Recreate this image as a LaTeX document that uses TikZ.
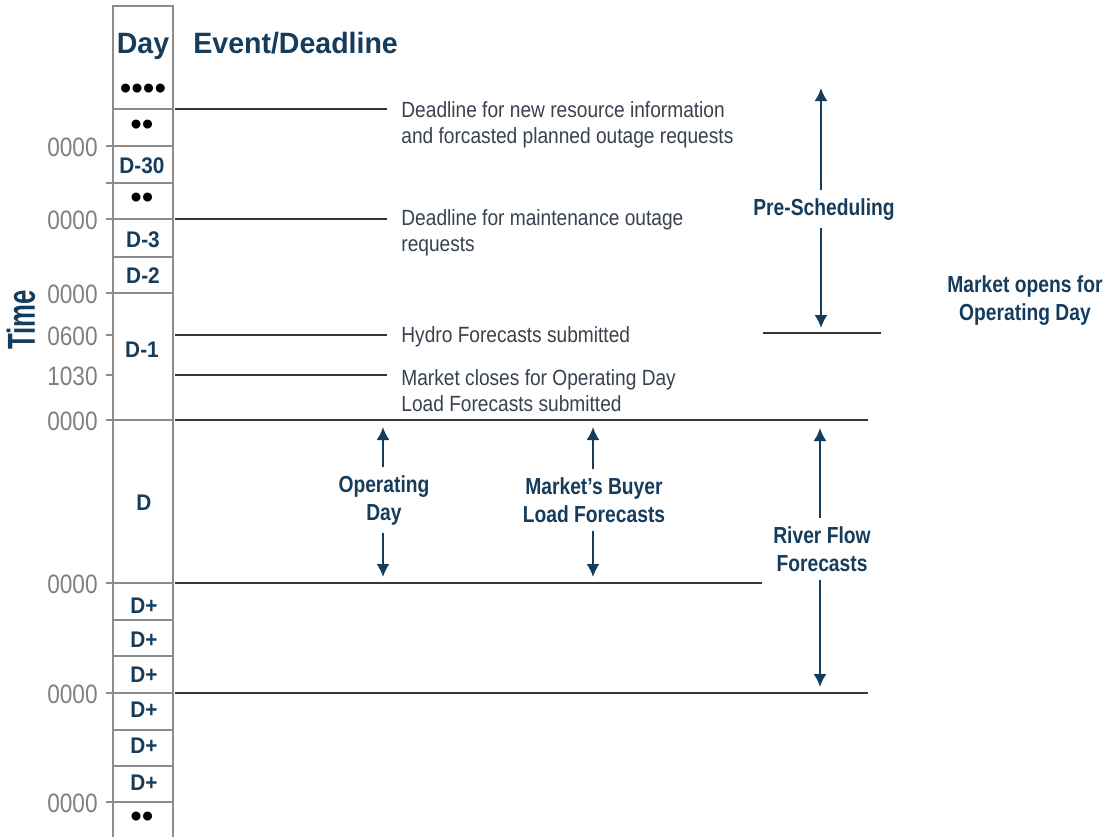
\documentclass[tikz,border=0pt]{standalone}
\usepackage{fontspec}
\setmainfont{Liberation Sans}
\newfontfamily\evfont[FakeStretch=0.87]{Liberation Sans}
\newfontfamily\hourfont[FakeStretch=0.85]{Liberation Sans}
\newfontfamily\spanfont[FakeStretch=0.83]{Liberation Sans}
\newfontfamily\cellfont[FakeStretch=0.92]{Liberation Sans}
\newfontfamily\headfont[FakeStretch=0.97]{Liberation Sans}
\newfontfamily\timefont[FakeStretch=0.66]{Liberation Sans}
\usetikzlibrary{arrows.meta}
\definecolor{navy}{RGB}{22,60,92}
\definecolor{evgray}{RGB}{55,66,78}
\definecolor{hourgray}{RGB}{128,128,128}
\definecolor{colgray}{RGB}{140,140,140}
\definecolor{linegray}{RGB}{55,55,55}

\begin{document}
\begin{tikzpicture}[x=0.5pt,y=-0.5pt,
  cell/.style={text=navy,font=\cellfont\bfseries\fontsize{11.3}{12}\selectfont,anchor=base,inner sep=0pt},
  dots/.style={text=black,font=\fontsize{16.5}{16}\selectfont,inner sep=0pt},
  hour/.style={text=hourgray,font=\hourfont\fontsize{13.3}{15}\selectfont,anchor=east,inner sep=0pt},
  event/.style={text=evgray,font=\evfont\fontsize{11}{13}\selectfont,anchor=north west,align=left,inner sep=0pt},
  span/.style={text=navy,font=\spanfont\bfseries\fontsize{11.6}{14}\selectfont,align=center,inner sep=4pt},
  arr/.style={navy,line width=1pt,-{Latex[length=6.5pt,width=6.5pt]}},
  evline/.style={linegray,line width=1.2pt},
  colline/.style={colgray,line width=1pt}]

\useasboundingbox (0,0) rectangle (1108,837);

\draw[colline] (113,837) -- (113,6) -- (173,6) -- (173,837);
\draw[colline] (113,109) -- (173,109);
\draw[colline] (113,146) -- (173,146);
\draw[colline] (113,183) -- (173,183);
\draw[colline] (113,219) -- (173,219);
\draw[colline] (113,257) -- (173,257);
\draw[colline] (113,293) -- (173,293);
\draw[colline] (113,420) -- (173,420);
\draw[colline] (113,583) -- (173,583);
\draw[colline] (113,620) -- (173,620);
\draw[colline] (113,656) -- (173,656);
\draw[colline] (113,693) -- (173,693);
\draw[colline] (113,730) -- (173,730);
\draw[colline] (113,766) -- (173,766);
\draw[colline] (113,802) -- (173,802);

\draw[colline] (106,146) -- (113,146);
\draw[colline] (106,183) -- (113,183);
\draw[colline] (106,219) -- (113,219);
\draw[colline] (106,293) -- (113,293);
\draw[colline] (106,335) -- (113,335);
\draw[colline] (106,375) -- (113,375);
\draw[colline] (106,420) -- (113,420);
\draw[colline] (106,583) -- (113,583);
\draw[colline] (106,693) -- (113,693);
\draw[colline] (106,802) -- (113,802);

\node[hour] (h1) at (98,147) {0000};
\node[hour] (h2) at (98,220) {0000};
\node[hour] (h3) at (98,294) {0000};
\node[hour] (h4) at (98,336) {0600};
\node[hour] (h5) at (98,376) {1030};
\node[hour] (h6) at (98,421) {0000};
\node[hour] (h7) at (98,584) {0000};
\node[hour] (h8) at (98,694) {0000};
\node[hour] (h9) at (98,803) {0000};

\node[text=navy,font=\timefont\bfseries\fontsize{19.5}{20}\selectfont,rotate=90,inner sep=0pt] (time) at (21,320) {Time};

\node[text=navy,font=\headfont\bfseries\fontsize{14.7}{16}\selectfont,anchor=base,inner sep=0pt] (day) at (143,53) {Day};
\node[text=navy,font=\headfont\bfseries\fontsize{14.7}{16}\selectfont,anchor=base west,inner sep=0pt] (evhead) at (193,53) {Event/Deadline};

\node[dots] (c0) at (143,92) {••••};
\node[dots] (c1) at (142,128) {••};
\node[cell] (c2) at (142,173) {D-30};
\node[dots] (c3) at (142,201) {••};
\node[cell] (c4) at (143,247) {D-3};
\node[cell] (c5) at (143,283) {D-2};
\node[cell] (c6) at (142,357) {D-1};
\node[cell] (c7) at (144,510) {D};
\node[cell] (c8) at (144,613) {D+};
\node[cell] (c9) at (144,647) {D+};
\node[cell] (c10) at (144,682) {D+};
\node[cell] (c11) at (144,717) {D+};
\node[cell] (c12) at (144,753) {D+};
\node[cell] (c13) at (144,790) {D+};
\node[dots] (c14) at (142,820) {••};

\draw[evline] (175,109) -- (387,109);
\draw[evline] (175,219) -- (387,219);
\draw[evline] (175,335) -- (387,335);
\draw[evline] (175,375) -- (387,375);
\draw[evline] (175,420) -- (868,420);
\draw[evline] (175,583) -- (762,583);
\draw[evline] (175,693) -- (868,693);
\draw[evline] (763,333) -- (881,333);

\node[event] (ev1) at (401,101) {Deadline for new resource information\\and forcasted planned outage requests};
\node[event] (ev2) at (401,209) {Deadline for maintenance outage\\requests};
\node[event] (ev3) at (401,326) {Hydro Forecasts submitted};
\node[event] (ev4) at (401,369) {Market closes for Operating Day\\Load Forecasts submitted};

\node[span,anchor=base] (presched) at (824,215) {Pre-Scheduling};
\node[span] (mktopen) at (1025,301) {Market opens for\\Operating Day};
\node[span] (opday) at (384,500) {Operating\\Day};
\node[span] (buyer) at (594,500) {Market’s Buyer\\Load Forecasts};
\node[span] (river) at (822,549) {River Flow\\Forecasts};

\coordinate (pretop) at (821,88);
\coordinate (prebot) at (821,328);
\coordinate (optop) at (383,427);
\coordinate (opbot) at (383,577);
\coordinate (buytop) at (593,427);
\coordinate (buybot) at (593,577);
\coordinate (rivtop) at (820,428);
\coordinate (rivbot) at (820,687);

\draw[arr] (presched.north -| pretop) -- (pretop);
\draw[arr] (presched.south -| prebot) -- (prebot);
\draw[arr] (opday.north -| optop) -- (optop);
\draw[arr] (opday.south -| opbot) -- (opbot);
\draw[arr] (buyer.north -| buytop) -- (buytop);
\draw[arr] (buyer.south -| buybot) -- (buybot);
\draw[arr] (river.north -| rivtop) -- (rivtop);
\draw[arr] (river.south -| rivbot) -- (rivbot);
\end{tikzpicture}
\end{document}
